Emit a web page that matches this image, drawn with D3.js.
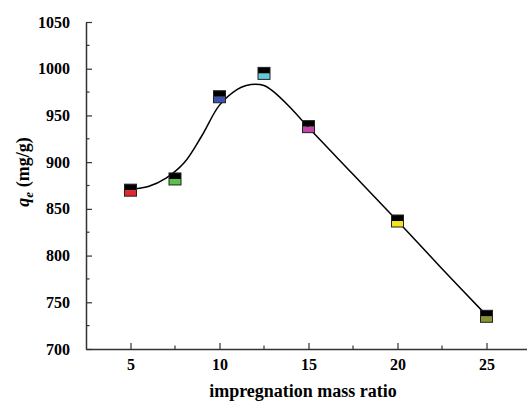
<!DOCTYPE html>
<html><head><meta charset="utf-8">
<script src="https://cdn.jsdelivr.net/npm/d3@7"></script>
<style>body{margin:0;background:#fff;}svg{display:block;} text{font-family:"Liberation Serif","Times New Roman",serif !important;}</style>
</head><body>
<script>
const ratios = [5, 7.5, 10, 12.5, 15, 20, 25];
const qe = [870, 882, 970, 995, 938, 837, 735];
const markerColors = ["#e5262b", "#5cbf4c", "#3a52b4", "#62cad8", "#c444aa", "#f2e41e", "#8c9432"];
const fitX = [5, 6, 7, 8, 9, 10, 11, 11.5, 12, 12.5, 13, 14, 15, 17.5, 20, 22.5, 25];
const fitY = [871, 874, 883, 899, 928, 961, 978, 982, 983.5, 982, 976, 958, 937, 887, 837, 786, 736];
const xTicks = [5, 10, 15, 20, 25];
const yTicks = [700, 750, 800, 850, 900, 950, 1000, 1050];

const W = 527, H = 410;
const svg = d3.select("body").append("svg").attr("width", W).attr("height", H);
const x = d3.scaleLinear().domain([2.5, 27.5]).range([86, 531]);
const y = d3.scaleLinear().domain([700, 1050]).range([349, 22]);

const xMinor = d3.range(7.5, 27.5, 5);
const yMinor = d3.range(725, 1050, 50);
const axCol = "#333";

svg.append("g").selectAll("line").data(xMinor).join("line")
  .attr("x1", d => x(d)).attr("x2", d => x(d)).attr("y1", 349).attr("y2", 345.5)
  .attr("stroke", axCol).attr("stroke-width", 1.2);
svg.append("g").selectAll("line").data(yMinor).join("line")
  .attr("y1", d => y(d)).attr("y2", d => y(d)).attr("x1", 86).attr("x2", 89.5)
  .attr("stroke", axCol).attr("stroke-width", 1.2);

const xAxis = d3.axisBottom(x).tickValues(xTicks).tickSizeInner(-6).tickSizeOuter(0).tickPadding(10).tickFormat(d3.format("d"));
const gx = svg.append("g").attr("transform", "translate(0,349)").call(xAxis);
const yAxis = d3.axisLeft(y).tickValues(yTicks).tickSizeInner(-6).tickSizeOuter(0).tickPadding(16).tickFormat(d3.format("d"));
const gy = svg.append("g").attr("transform", "translate(86,0)").call(yAxis);
[gx, gy].forEach(g => {
  g.attr("font-family", null).attr("font-size", null);
  g.select(".domain").attr("stroke", axCol).attr("stroke-width", 1.5);
  g.selectAll(".tick line").attr("stroke", axCol).attr("stroke-width", 1.2);
  g.selectAll(".tick text").style("font-weight", "bold")
    .style("font-size", "16px").attr("fill", "#000");
});

const pts = fitX.map((d, i) => [d, fitY[i]]);
svg.append("path").datum(pts)
  .attr("d", d3.line().x(d => x(d[0])).y(d => y(d[1])).curve(d3.curveCatmullRom.alpha(0.5)))
  .attr("fill", "none").attr("stroke", "#000").attr("stroke-width", 1.5);

const s = 12;
const mk = svg.append("g").selectAll("g").data(ratios.map((d, i) => ({x: d, y: qe[i], c: markerColors[i]}))).join("g")
  .attr("transform", d => `translate(${x(d.x)},${y(d.y)})`);
mk.append("rect").attr("x", -s/2).attr("y", 0).attr("width", s).attr("height", s/2).attr("fill", d => d.c);
mk.append("rect").attr("x", -s/2).attr("y", -s/2).attr("width", s).attr("height", s/2).attr("fill", "#000");
mk.append("rect").attr("x", -s/2).attr("y", -s/2).attr("width", s).attr("height", s)
  .attr("fill", "none").attr("stroke", "#222").attr("stroke-width", 1);

svg.append("text").attr("x", 303).attr("y", 397).attr("text-anchor", "middle")
  .style("font-weight", "bold").style("font-size", "18px")
  .text("impregnation mass ratio");
const yt = svg.append("text").attr("transform", "translate(29,172) rotate(-90)").attr("text-anchor", "middle")
  .style("font-weight", "bold").style("font-size", "18px");
yt.append("tspan").style("font-style", "italic").text("q");
yt.append("tspan").style("font-style", "italic").style("font-size", "13px").attr("dy", 4).text("e");
yt.append("tspan").attr("dy", -4).text(" (mg/g)");
</script>
</body></html>
